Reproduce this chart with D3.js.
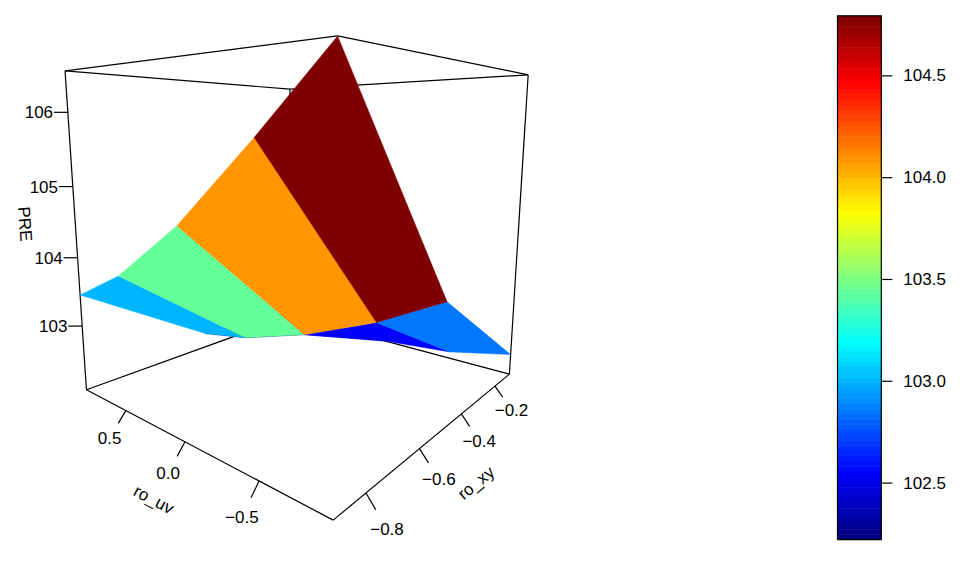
<!DOCTYPE html>
<html>
<head>
<meta charset="utf-8">
<script src="https://cdn.jsdelivr.net/npm/d3@7"></script>
<style>
  html, body { margin: 0; background: #fff; }
  text { font-family: "Liberation Sans", Arial, sans-serif; font-size: 17px; fill: #000; }
</style>
</head>
<body>
<svg id="chart" width="970" height="567"></svg>
<script>
// grid of the surface
const roXy = [-0.9, -0.5, -0.1];
const roUv = [-0.9, -0.5, 0, 0.5, 0.9];
// PRE, one row per roXy value, one column per roUv value
const pre = [
  [106.54, 105.69, 104.69, 103.90, 103.46],
  [103.71, 103.23, 102.77, 102.43, 102.27],
  [102.35, 102.14, 102.03, 102.05, 102.13]
];

const xyLimits = [-0.9, -0.1];
const uvLimits = [-0.9, 0.9];
const preLimits = [102.03, 106.54];

const xyTicks = [-0.8, -0.6, -0.4, -0.2];
const uvTicks = [-0.5, 0, 0.5];
const preTicks = [103, 104, 105, 106];
const preTitleAt = 104.48;
const keyTicks = [102.5, 103, 103.5, 104, 104.5];

const jetColors = ["#00007F", "blue", "#007FFF", "cyan", "#7FFF7F", "yellow", "#FF7F00", "red", "#7F0000"];

const camera = { theta: 50, phi: 9.88, dist: 3.733, expand: 0.984, scale: 156.74, cx: 304.5, cy: 234.3, ratio: 1.014 };
const lineWidth = 1.2;

const svg = d3.select("#chart");
const fmt = d3.format(".1f");
const minus = s => String(s).replace("-", "\u2212");

const xScale = d3.scaleLinear().domain(xyLimits).range([-1, 1]);
const yScale = d3.scaleLinear().domain(uvLimits).range([-1, 1]);
const zScale = d3.scaleLinear().domain(preLimits).range([-1, 1]);

// same viewing steps as persp(): turn by theta, tilt by phi, then perspective
function project(x, y, z) {
  const t = camera.theta * Math.PI / 180;
  const p = camera.phi * Math.PI / 180;
  const h = z * camera.expand;
  const x1 = x * Math.cos(t) - y * Math.sin(t);
  const z1 = -x * Math.sin(t) - y * Math.cos(t);
  const y2 = h * Math.cos(p) - z1 * Math.sin(p);
  const z2 = h * Math.sin(p) + z1 * Math.cos(p);
  const w = 1 - z2 / camera.dist;
  return [camera.cx + camera.scale * x1 / w, camera.cy - camera.scale * camera.ratio * y2 / w];
}

const linePath = d3.line();

// ------ box, everything but the front vertical edge
const box = svg.append("g").attr("fill", "none").attr("stroke", "#000").attr("stroke-width", lineWidth);
const boxEdges = [
  [[-1, -1, -1], [1, -1, -1]], [[1, -1, -1], [1, 1, -1]], [[1, 1, -1], [-1, 1, -1]], [[-1, 1, -1], [-1, -1, -1]],
  [[-1, -1, 1], [1, -1, 1]], [[1, -1, 1], [1, 1, 1]], [[1, 1, 1], [-1, 1, 1]], [[-1, 1, 1], [-1, -1, 1]],
  [[1, -1, -1], [1, -1, 1]], [[-1, 1, -1], [-1, 1, 1]], [[1, 1, -1], [1, 1, 1]]
];
box.selectAll("path")
  .data(boxEdges)
  .join("path")
  .attr("d", d => linePath(d.map(c => project(...c))));

// ------ facets, coloured by the mean of their corners, far ones first
const facets = [];
d3.range(roXy.length - 2, -1, -1).forEach(i => {
  d3.range(roUv.length - 2, -1, -1).forEach(j => {
    const corners = [[i, j], [i, j + 1], [i + 1, j + 1], [i + 1, j]];
    facets.push({
      value: d3.mean(corners, c => pre[c[0]][c[1]]),
      points: corners.map(c => project(xScale(roXy[c[0]]), yScale(roUv[c[1]]), zScale(pre[c[0]][c[1]])))
    });
  });
});

const keyDomain = d3.extent(facets, d => d.value);
const jet = d3.scaleLinear().domain(jetColors.map((_, i) => i / (jetColors.length - 1))).range(jetColors);
const levels = d3.range(100).map(i => jet(i / 99));
const color = d3.scaleQuantize().domain(keyDomain).range(levels);

svg.append("g")
  .selectAll("path")
  .data(facets)
  .join("path")
  .attr("d", d => linePath(d.points) + "Z")
  .attr("fill", d => color(d.value))
  .attr("stroke", d => color(d.value))
  .attr("stroke-width", 0.4);

// ------ axes on the floor of the box
const axes = svg.append("g");

function drawAxis(ticks, point, vec, title, titleAt, edge) {
  const g = axes.append("g");
  const base = t => project(...point(t));
  const end = (t, f) => {
    const c = point(t);
    const a = project(c[0] + vec[0], c[1] + vec[1], c[2] + vec[2]);
    const b = project(c[0], c[1], c[2]);
    return [b[0] + (a[0] - b[0]) * f, b[1] + (a[1] - b[1]) * f];
  };
  g.selectAll("path")
    .data(ticks)
    .join("path")
    .attr("stroke", "#000")
    .attr("stroke-width", lineWidth)
    .attr("d", d => linePath([base(d), end(d, 1)]));
  g.selectAll("text.tick")
    .data(ticks)
    .join("text")
    .attr("class", "tick")
    .attr("text-anchor", "middle")
    .attr("dy", "0.36em")
    .attr("transform", d => `translate(${end(d, 2.15)})`)
    .text(d => minus(fmt(d)));
  const a = project(...edge[0]);
  const b = project(...edge[1]);
  const angle = Math.atan2(b[1] - a[1], b[0] - a[0]) * 180 / Math.PI;
  g.append("text")
    .attr("text-anchor", "middle")
    .attr("dy", "0.36em")
    .attr("transform", `translate(${end(titleAt, 3.95)}) rotate(${angle})`)
    .text(title);
}

drawAxis(uvTicks, u => [-1, yScale(u), -1], [-0.055, 0, -0.06], "ro_uv", 0, [[-1, 1, -1], [-1, -1, -1]]);
drawAxis(xyTicks, v => [xScale(v), -1, -1], [0, -0.055, -0.06], "ro_xy", -0.5, [[-1, -1, -1], [1, -1, -1]]);

// ------ vertical axis, ticks run flat to the left
const zAxis = svg.append("g");
const zPoint = z => project(-1, 1, zScale(z));
const zTickLen = 14;
zAxis.selectAll("line")
  .data(preTicks)
  .join("line")
  .attr("stroke", "#000")
  .attr("stroke-width", lineWidth)
  .attr("x1", d => zPoint(d)[0])
  .attr("x2", d => zPoint(d)[0] - zTickLen)
  .attr("y1", d => zPoint(d)[1])
  .attr("y2", d => zPoint(d)[1]);
zAxis.selectAll("text")
  .data(preTicks)
  .join("text")
  .attr("text-anchor", "middle")
  .attr("dy", "0.36em")
  .attr("x", d => zPoint(d)[0] - zTickLen * 2.07)
  .attr("y", d => zPoint(d)[1])
  .text(d => d);
const zMid = zPoint(preTitleAt);
zAxis.append("text")
  .attr("text-anchor", "middle")
  .attr("dy", "0.36em")
  .attr("transform", `translate(${zMid[0] - zTickLen * 3.57},${zMid[1]}) rotate(86)`)
  .text("PRE");

// ------ colour key
const key = { left: 837.5, right: 881.3, top: 15.8, bottom: 539.6 };
const keyY = d3.scaleLinear().domain(keyDomain).range([key.bottom, key.top]);
const keyG = svg.append("g");
const step = (keyDomain[1] - keyDomain[0]) / levels.length;

keyG.selectAll("rect")
  .data(levels)
  .join("rect")
  .attr("x", key.left)
  .attr("width", key.right - key.left)
  .attr("y", (_, i) => keyY(keyDomain[0] + (i + 1) * step))
  .attr("height", (_, i) => keyY(keyDomain[0] + i * step) - keyY(keyDomain[0] + (i + 1) * step) + 0.5)
  .attr("fill", d => d);

keyG.append("rect")
  .attr("x", key.left)
  .attr("y", key.top)
  .attr("width", key.right - key.left)
  .attr("height", key.bottom - key.top)
  .attr("fill", "none")
  .attr("stroke", "#000")
  .attr("stroke-width", lineWidth);

const keyAxis = keyG.append("g")
  .attr("transform", `translate(${key.right},0)`)
  .call(d3.axisRight(keyY).tickValues(keyTicks).tickFormat(fmt).tickSize(11).tickPadding(11));
keyAxis.select(".domain").remove();
keyAxis.selectAll("line").attr("stroke", "#000").attr("stroke-width", lineWidth);
keyAxis.attr("font-size", null).attr("font-family", null);
</script>
</body>
</html>
